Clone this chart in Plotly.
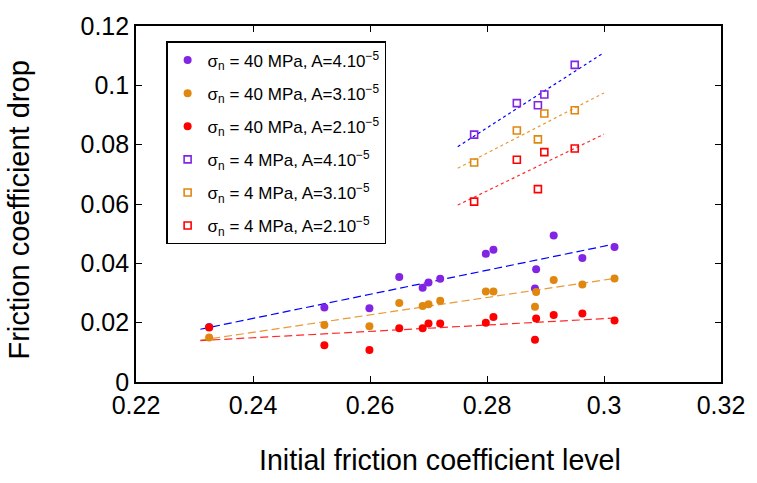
import numpy as np
import plotly.graph_objects as go

# 40 MPa experiments (filled circles)
x40 = [0.2325, 0.2522, 0.2599, 0.2650, 0.2690, 0.2700, 0.2720, 0.2798, 0.2811,
       0.2882, 0.2884, 0.2914, 0.2963, 0.3018]
y40_A4 = [0.0185, 0.0251, 0.0249, 0.0354, 0.0318, 0.0335, 0.0348, 0.0432, 0.0446,
          0.0315, 0.0380, 0.0494, 0.0418, 0.0455]
y40_A3 = [0.0150, 0.0192, 0.0188, 0.0266, 0.0256, 0.0262, 0.0274, 0.0305, 0.0305,
          0.0254, 0.0303, 0.0344, 0.0329, 0.0349]
y40_A2 = [0.0184, 0.0124, 0.0108, 0.0181, 0.0181, 0.0197, 0.0197, 0.0200, 0.0219,
          0.0142, 0.0214, 0.0226, 0.0231, 0.0207]

# 4 MPa experiments (open squares)
x4 = [0.2778, 0.2851, 0.2887, 0.2898, 0.2950]
y4_A4 = [0.0834, 0.0940, 0.0933, 0.0969, 0.1069]
y4_A3 = [0.0740, 0.0848, 0.0818, 0.0905, 0.0916]
y4_A2 = [0.0608, 0.0749, 0.0650, 0.0775, 0.0787]

# x-span of the linear fits
fit40_range = [0.231, 0.3018]
fit4_range = [0.275, 0.300]

# tick labels
x_ticks = [0.22, 0.24, 0.26, 0.28, 0.30, 0.32]
x_ticklabels = ["0.22", "0.24", "0.26", "0.28", "0.3", "0.32"]
y_ticks = [0, 0.02, 0.04, 0.06, 0.08, 0.10, 0.12]
y_ticklabels = ["0", "0.02", "0.04", "0.06", "0.08", "0.1", "0.12"]

legend_names = [
    "σ<sub>n</sub> = 40 MPa, A=4.10<sup>−5</sup>",
    "σ<sub>n</sub> = 40 MPa, A=3.10<sup>−5</sup>",
    "σ<sub>n</sub> = 40 MPa, A=2.10<sup>−5</sup>",
    "σ<sub>n</sub> = 4 MPa, A=4.10<sup>−5</sup>",
    "σ<sub>n</sub> = 4 MPa, A=3.10<sup>−5</sup>",
    "σ<sub>n</sub> = 4 MPa, A=2.10<sup>−5</sup>",
]

purple = "#8224e3"
orange = "#e0870f"
red = "#ff0000"
line_cols = ["#0000ff", "#e89a35", "#ff2a2a"]

FONT = "Arial, Liberation Sans, Helvetica, sans-serif"

fig = go.Figure()

# fit lines first (below markers)
for ys, lc in zip([y40_A4, y40_A3, y40_A2], line_cols):
    p = np.polyfit(x40, ys, 1)
    xx = np.array(fit40_range)
    fig.add_trace(go.Scatter(x=xx, y=np.polyval(p, xx), mode="lines",
                             line=dict(color=lc, width=1.2, dash="8px,4px"),
                             showlegend=False, hoverinfo="skip"))
for ys, lc in zip([y4_A4, y4_A3, y4_A2], line_cols):
    p = np.polyfit(x4, ys, 1)
    xx = np.array(fit4_range)
    fig.add_trace(go.Scatter(x=xx, y=np.polyval(p, xx), mode="lines",
                             line=dict(color=lc, width=1.2, dash="dot"),
                             showlegend=False, hoverinfo="skip"))

for i, (ys, c, name) in enumerate(zip([y40_A4, y40_A3, y40_A2], [purple, orange, red],
                                      legend_names[:3])):
    fig.add_trace(go.Scatter(x=x40, y=ys, mode="markers", name=name,
                             legendgroup=f"g{i}",
                             marker=dict(symbol="circle", size=8, color=c,
                                         line=dict(width=0))))
for i, (ys, c, name) in enumerate(zip([y4_A4, y4_A3, y4_A2], [purple, orange, red],
                                      legend_names[3:])):
    fig.add_trace(go.Scatter(x=x4, y=ys, mode="markers", name=name,
                             legendgroup=f"h{i}",
                             marker=dict(symbol="square-open", size=7, color=c,
                                         line=dict(width=1.6, color=c))))

axis_common = dict(showgrid=False, zeroline=False, showline=True, linecolor="black",
                   linewidth=1.6, mirror="allticks", ticks="inside", ticklen=6,
                   tickwidth=1, tickcolor="black", ticklabeloverflow="allow",
                   tickfont=dict(family=FONT, size=25, color="black"))

fig.update_xaxes(range=[0.22, 0.32], tickmode="array", tickvals=x_ticks,
                 ticktext=x_ticklabels, **axis_common)
fig.update_yaxes(range=[0, 0.12], tickmode="array", tickvals=y_ticks,
                 ticktext=y_ticklabels, **axis_common)

fig.update_layout(
    width=757, height=483,
    margin=dict(l=136, r=27, t=13, b=101),
    paper_bgcolor="white", plot_bgcolor="white",
    font=dict(family=FONT, color="black"),
    legend=dict(x=0.052, y=0.957, xanchor="left", yanchor="top",
                bordercolor="black", borderwidth=1.2, bgcolor="white",
                tracegroupgap=8, itemwidth=30,
                font=dict(family=FONT, size=17, color="black")),
    annotations=[
        dict(text="Initial friction coefficient level", xref="paper", yref="paper",
             x=(445 - 136) / 594, y=-(463 - 382) / 370, xanchor="center", yanchor="middle",
             showarrow=False, font=dict(family=FONT, size=28.6, color="black")),
        dict(text="Friction coefficient drop", xref="paper", yref="paper",
             x=-(136 - 17) / 594, y=0.484, xanchor="center", yanchor="middle",
             textangle=-90, showarrow=False,
             font=dict(family=FONT, size=29, color="black")),
    ],
)

fig.write_html("out.html", config={"displayModeBar": False},
               post_script="document.body.style.margin='0px';"
                           "document.body.style.overflow='hidden';")
